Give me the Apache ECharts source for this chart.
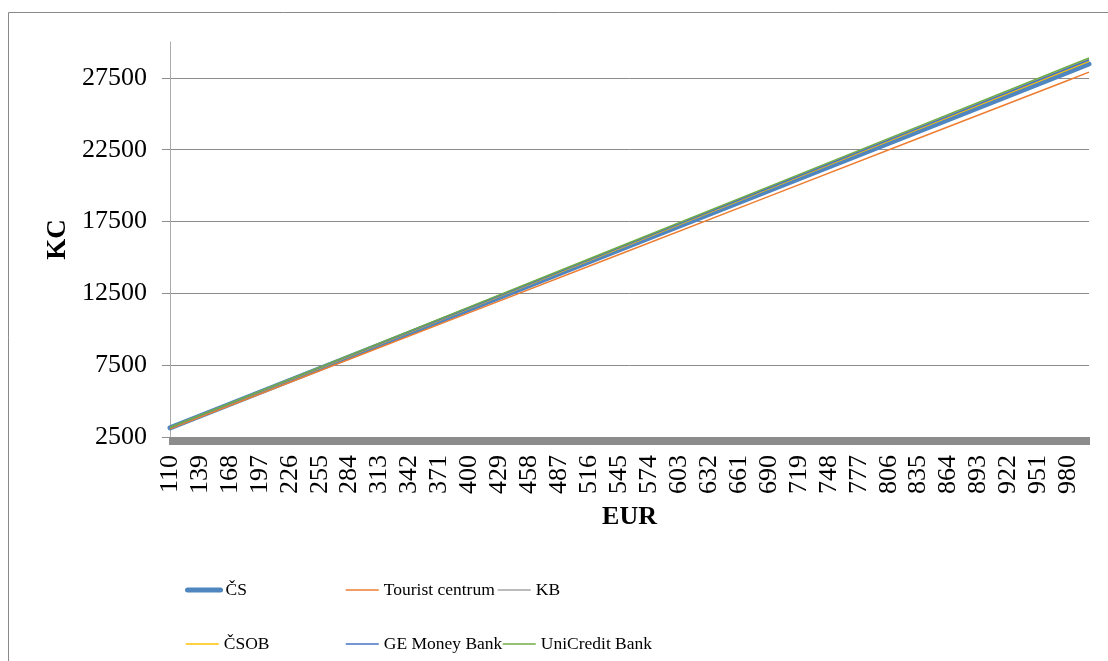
<!DOCTYPE html>
<html>
<head>
<meta charset="utf-8">
<script src="https://cdn.jsdelivr.net/npm/echarts@6/dist/echarts.min.js"></script>
<style>
html,body{margin:0;padding:0;background:#fff;}
#chart{width:1108px;height:661px;}
</style>
</head>
<body>
<div id="chart"></div>
<script>
const EUR_POINTS = [110, 255, 400, 545, 690, 835, 980, 1000];
// KC values per bank
const CS        = [3132, 7260, 11388, 15516, 19644, 23772, 27901, 28470];
const TOURIST   = [3069, 7115, 11160, 15206, 19251, 23297, 27342, 27900];
const KB        = [3168, 7344, 11520, 15696, 19872, 24048, 28224, 28800];
const CSOB      = [3153, 7308, 11464, 15620, 19775, 23931, 28087, 28660];
const GE        = [3163, 7331, 11500, 15669, 19838, 24006, 28175, 28750];
const UNICREDIT = [3178, 7367, 11556, 15745, 19934, 24123, 28312, 28890];
const SERIES_NAMES = ['ČS', 'Tourist centrum', 'KB', 'ČSOB', 'GE Money Bank', 'UniCredit Bank'];
// tick labels
const X_TICKS = [110,139,168,197,226,255,284,313,342,371,400,429,458,487,516,545,574,603,632,661,690,719,748,777,806,835,864,893,922,951,980];
const Y_TICKS = [2500, 7500, 12500, 17500, 22500, 27500];
const X_MIN = 110, X_MAX = 1000, Y_MIN = 2500, Y_MAX = 30000;

const COLORS = ['#4F86C0', '#ED7D31', '#A5A5A5', '#FFC000', '#4472C4', '#70AD47'];
const WIDTHS = [5, 1.5, 1.5, 1.5, 1.5, 1.5];
const VALUES = [CS, TOURIST, KB, CSOB, GE, UNICREDIT];
const FONT = '"Liberation Serif", "Times New Roman", serif';

const chart = echarts.init(document.getElementById('chart'), null, {renderer: 'canvas'});

const series = SERIES_NAMES.map((name, i) => ({
  name: name,
  type: 'line',
  data: EUR_POINTS.map((e, j) => [e, VALUES[i][j]]),
  showSymbol: false,
  symbol: 'none',
  lineStyle: {color: COLORS[i], width: WIDTHS[i], cap: i === 0 ? 'round' : 'butt'},
  itemStyle: {color: COLORS[i]},
  z: i === 0 ? 2 : 3,
  animation: false
}));

const row1 = 581, row2 = 635;
const legendPos = [[185, row1], [345, row1], [497, row1], [185, row2], [345, row2], [502, row2]];
const legends = SERIES_NAMES.map((name, i) => ({
  data: [name],
  left: legendPos[i][0],
  top: legendPos[i][1],
  padding: 0,
  itemWidth: 33,
  itemHeight: 14,
  selectedMode: false,
  itemStyle: {opacity: 0},
  lineStyle: {width: WIDTHS[i], cap: i === 0 ? 'round' : 'butt'},
  textStyle: {fontFamily: FONT, fontSize: 17.5, color: '#000'}
}));

chart.setOption({
  animation: false,
  backgroundColor: '#fff',
  color: COLORS,
  grid: {left: 170, right: 19, top: 42, bottom: 224},
  legend: legends,
  graphic: [{
    type: 'rect', silent: true, z: -10,
    shape: {x: 8.5, y: 12.5, width: 1300, height: 900},
    style: {fill: 'none', stroke: '#898989', lineWidth: 1}
  }],
  xAxis: {
    type: 'value',
    min: X_MIN, max: X_MAX, interval: 1,
    name: 'EUR', nameLocation: 'middle', nameGap: 67,
    nameTextStyle: {fontFamily: FONT, fontSize: 26, fontWeight: 'bold', color: '#000'},
    axisLine: {show: true, lineStyle: {color: '#8c8c8c', width: 1}},
    axisTick: {show: true, length: 8, lineStyle: {color: '#8c8c8c', width: 2}},
    axisLabel: {customValues: X_TICKS, rotate: 90, margin: 18, fontFamily: FONT, fontSize: 26, color: '#000',
      formatter: v => String(v)},
    splitLine: {show: false}
  },
  yAxis: {
    type: 'value',
    min: Y_MIN, max: Y_MAX,
    name: 'KC', nameLocation: 'middle', nameGap: 92,
    nameTextStyle: {fontFamily: FONT, fontSize: 27, fontWeight: 'bold', color: '#000'},
    axisLine: {show: true, lineStyle: {color: '#ababab', width: 1}},
    axisTick: {show: true, customValues: Y_TICKS, length: 8, lineStyle: {color: '#8c8c8c'}},
    axisLabel: {customValues: Y_TICKS, margin: 23, fontFamily: FONT, fontSize: 26, color: '#000',
      formatter: v => String(v)},
    splitLine: {show: true, lineStyle: {color: '#8c8c8c', width: 1}}
  },
  series: series
});
</script>
</body>
</html>
